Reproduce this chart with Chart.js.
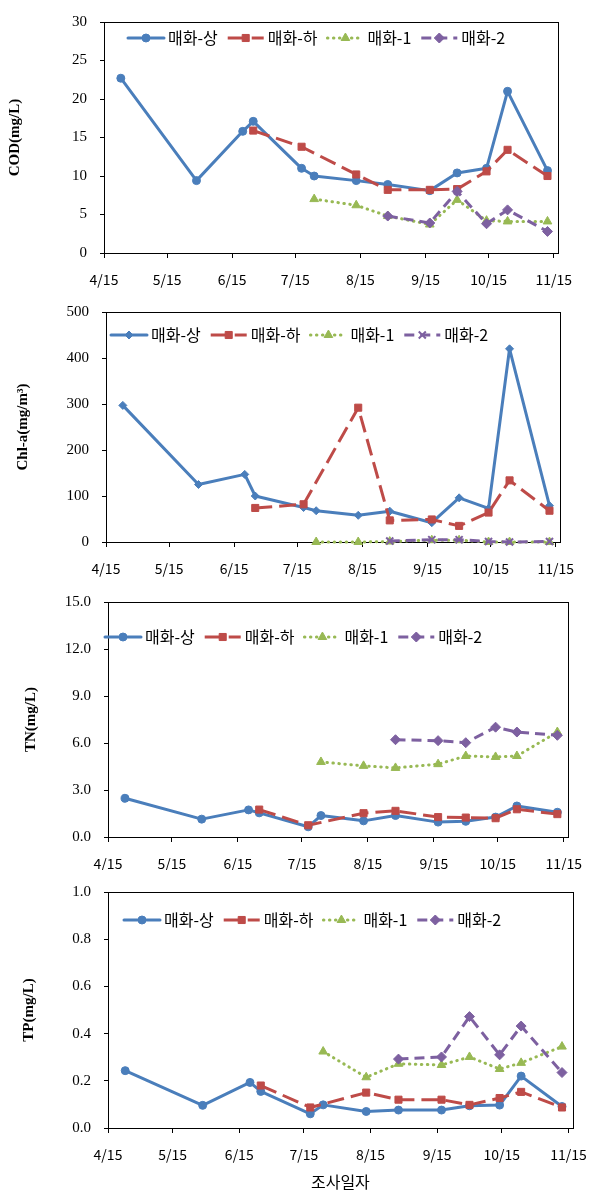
<!DOCTYPE html>
<html>
<head>
  <meta charset="UTF-8" />
  <title>매화 수질 변화</title>
  <style>
    body { margin: 0; background: #fff; }
    .panel { position: absolute; left: 0; width: 600px; }
  </style>
</head>
<body>
  <div class="panel" style="top: 0; height: 290px;"><canvas id="codChart"></canvas></div>
  <div class="panel" style="top: 290px; height: 290px;"><canvas id="chlChart"></canvas></div>
  <div class="panel" style="top: 580px; height: 290px;"><canvas id="tnChart"></canvas></div>
  <div class="panel" style="top: 870px; height: 326px;"><canvas id="tpChart"></canvas></div>
  <script src="https://cdn.jsdelivr.net/npm/chart.js"></script>
  <script>
    // sampling dates for each station
    const sangDates = ['4/23', '5/29', '6/20', '6/25', '7/18', '7/24', '8/13', '8/28', '9/17', '9/30', '10/14', '10/24', '11/12'];
    const haDates = ['6/25', '7/18', '8/13', '8/28', '9/17', '9/30', '10/14', '10/24', '11/12'];
    const st1Dates = ['7/24', '8/13', '8/28', '9/17', '9/30', '10/14', '10/24', '11/12'];
    const st2Dates = ['8/28', '9/17', '9/30', '10/14', '10/24', '11/12'];
    const tickLabels = ['4/15', '5/15', '6/15', '7/15', '8/15', '9/15', '10/15', '11/15'];
    const seriesNames = ['매화-상', '매화-하', '매화-1', '매화-2'];

    // COD (mg/L)
    const codSang = [22.7, 9.4, 15.8, 17.1, 11.0, 10.0, 9.4, 8.9, 8.1, 10.4, 11.0, 21.0, 10.7];
    const codHa = [15.9, 13.8, 10.2, 8.2, 8.2, 8.3, 10.6, 13.4, 10.0];
    const cod1 = [7.0, 6.2, 4.8, 3.7, 6.9, 4.2, 4.1, 4.1];
    const cod2 = [4.8, 3.9, 8.0, 3.8, 5.6, 2.8];

    // Chl-a (mg/m3)
    const chlSang = [297, 125, 147, 100, 75, 68, 58, 67, 42, 96, 73, 420, 79];
    const chlHa = [74, 82, 292, 47, 49, 35, 64, 134, 68];
    const chl1 = [0, 0, 1, 4, 4, 0, 0, 0];
    const chl2 = [2, 5, 5, 1, 0, 1];

    // TN (mg/L)
    const tnSang = [2.47, 1.14, 1.73, 1.54, 0.65, 1.37, 1.03, 1.37, 0.95, 1.0, 1.27, 1.98, 1.58];
    const tnHa = [1.75, 0.75, 1.52, 1.67, 1.27, 1.24, 1.2, 1.77, 1.46];
    const tn1 = [4.79, 4.54, 4.41, 4.65, 5.17, 5.11, 5.17, 6.7];
    const tn2 = [6.21, 6.15, 6.02, 7.01, 6.7, 6.49];

    // TP (mg/L)
    const tpSang = [0.243, 0.096, 0.193, 0.155, 0.06, 0.098, 0.07, 0.076, 0.076, 0.094, 0.097, 0.22, 0.091];
    const tpHa = [0.18, 0.087, 0.15, 0.12, 0.12, 0.098, 0.127, 0.153, 0.087];
    const tp1 = [0.324, 0.215, 0.272, 0.267, 0.301, 0.25, 0.276, 0.345];
    const tp2 = [0.292, 0.301, 0.472, 0.31, 0.432, 0.235];

    const monthStart = [0, 31, 59, 90, 120, 151, 181, 212, 243, 273, 304, 334];
    function dayOf(md) {
      const [m, d] = md.split('/').map(Number);
      return monthStart[m - 1] + d;
    }
    const tickDays = tickLabels.map(dayOf);
    const xMin = dayOf('4/15');
    const xMax = dayOf('11/17');

    const seriesStyle = [
      { color: '#4A7EBB', dash: [], cap: 'round', point: 'circle', radius: 4, order: 4 },
      { color: '#BE4B48', dash: [17, 7], cap: 'butt', point: 'rect', radius: 5, order: 3 },
      { color: '#98B954', dash: [0.5, 5.5], cap: 'round', point: 'triangle', radius: 5, order: 2 },
      { color: '#7D60A0', dash: [10, 6], cap: 'butt', point: 'rectRot', radius: 5, order: 1 }
    ];
    const seriesDates = [sangDates, haDates, st1Dates, st2Dates];

    // legend with line sample + marker, drawn inside the plot like Excel does
    const lineLegend = {
      id: 'lineLegend',
      afterDraw(chart, args, opts) {
        const ctx = chart.ctx;
        let x = opts.x;
        const y = opts.y;
        ctx.save();
        ctx.font = '16px "Noto Sans CJK KR"';
        ctx.textBaseline = 'middle';
        chart.data.datasets.forEach(ds => {
          ctx.save();
          ctx.strokeStyle = ds.borderColor;
          ctx.lineWidth = ds.borderWidth;
          ctx.lineCap = ds.borderCapStyle;
          ctx.setLineDash(ds.borderDash);
          ctx.beginPath();
          ctx.moveTo(x - 18, y);
          ctx.lineTo(x + 18, y);
          ctx.stroke();
          ctx.restore();
          ctx.save();
          ctx.fillStyle = ds.pointBackgroundColor;
          ctx.strokeStyle = ds.pointBorderColor;
          ctx.lineWidth = ds.pointBorderWidth;
          Chart.helpers.drawPoint(ctx, { pointStyle: ds.pointStyle, radius: ds.pointRadius, rotation: 0, borderWidth: ds.pointBorderWidth }, x, y);
          ctx.restore();
          ctx.fillStyle = '#000';
          ctx.fillText(ds.label, x + 22, y);
          x += 22 + ctx.measureText(ds.label).width + 28;
        });
        ctx.restore();
      }
    };

    const plotFrame = {
      id: 'plotFrame',
      beforeDatasetsDraw(chart) {
        const { ctx, chartArea: a } = chart;
        ctx.save();
        ctx.strokeStyle = '#000';
        ctx.lineWidth = 1;
        ctx.strokeRect(Math.round(a.left) + 0.5, Math.round(a.top) + 0.5, Math.round(a.right - a.left), Math.round(a.bottom - a.top));
        ctx.restore();
      }
    };

    function makeChart(id, p) {
      const datasets = p.values.map((vals, i) => {
        const s = seriesStyle[i];
        const style = (p.pointStyles && p.pointStyles[i]) || s.point;
        return {
          label: seriesNames[i],
          data: vals.map((v, j) => ({ x: dayOf(seriesDates[i][j]), y: v })),
          borderColor: s.color,
          backgroundColor: s.color,
          borderWidth: 3,
          borderDash: s.dash,
          borderCapStyle: s.cap,
          borderJoinStyle: 'round',
          pointStyle: style,
          pointRadius: s.radius,
          pointHoverRadius: s.radius,
          pointBackgroundColor: s.color,
          pointBorderColor: s.color,
          pointBorderWidth: style === 'crossRot' ? 2 : 1,
          tension: 0,
          fill: false,
          clip: false,
          order: s.order
        };
      });

      return new Chart(document.getElementById(id), {
        type: 'line',
        data: { datasets: datasets },
        plugins: [plotFrame, lineLegend],
        options: {
          responsive: true,
          maintainAspectRatio: false,
          animation: false,
          events: [],
          layout: { padding: { left: 0, right: p.padRight, top: p.padTop, bottom: 0 } },
          plugins: {
            legend: { display: false },
            tooltip: { enabled: false },
            lineLegend: { x: p.legendX, y: p.legendY }
          },
          scales: {
            x: {
              type: 'linear',
              min: xMin,
              max: xMax,
              afterBuildTicks: scale => { scale.ticks = tickDays.map(v => ({ value: v })); },
              afterFit: scale => { scale.height = p.xHeight; },
              ticks: {
                autoSkip: false,
                maxRotation: 0,
                padding: 13,
                color: '#000',
                font: { family: '"Noto Sans CJK KR"', size: 14 },
                callback: v => tickLabels[tickDays.indexOf(v)] || ''
              },
              grid: { drawOnChartArea: false, drawTicks: true, tickLength: 5, color: '#000' },
              border: { display: false },
              title: {
                display: !!p.xTitle,
                text: p.xTitle || '',
                color: '#000',
                font: { family: '"Noto Sans CJK KR"', size: 16 },
                padding: { top: 0, bottom: 4 }
              }
            },
            y: {
              min: 0,
              max: p.yMax,
              afterFit: scale => { scale.width = p.left; },
              ticks: {
                stepSize: p.yStep,
                padding: 13,
                color: '#000',
                font: { family: '"Liberation Serif"', size: 15 },
                callback: v => v.toFixed(p.decimals)
              },
              grid: { drawOnChartArea: false, drawTicks: true, tickLength: 4, color: '#000' },
              border: { display: false },
              title: {
                display: true,
                text: p.yTitle,
                color: '#000',
                font: { family: '"Liberation Serif"', size: 15, weight: 'bold' },
                padding: { top: p.yTitlePad, bottom: 0 }
              }
            }
          }
        }
      });
    }

    makeChart('codChart', {
      values: [codSang, codHa, cod1, cod2], yMax: 30, yStep: 5, decimals: 0, yTitle: 'COD(mg/L)',
      left: 104, padRight: 42, padTop: 16, xHeight: 37, yTitlePad: 6, legendX: 146, legendY: 38
    });
    makeChart('chlChart', {
      values: [chlSang, chlHa, chl1, chl2], yMax: 500, yStep: 100, decimals: 0, yTitle: 'Chl-a(mg/m³)',
      pointStyles: ['rectRot', null, null, 'crossRot'],
      left: 106, padRight: 40, padTop: 16, xHeight: 38, yTitlePad: 14, legendX: 129, legendY: 45
    });
    makeChart('tnChart', {
      values: [tnSang, tnHa, tn1, tn2], yMax: 15, yStep: 3, decimals: 1, yTitle: 'TN(mg/L)',
      left: 108, padRight: 32, padTop: 21, xHeight: 33, yTitlePad: 22, legendX: 123, legendY: 57
    });
    makeChart('tpChart', {
      values: [tpSang, tpHa, tp1, tp2], yMax: 1, yStep: 0.2, decimals: 1, yTitle: 'TP(mg/L)', xTitle: '조사일자',
      left: 108, padRight: 27, padTop: 22, xHeight: 68, yTitlePad: 20, legendX: 142, legendY: 50
    });
  </script>
</body>
</html>
